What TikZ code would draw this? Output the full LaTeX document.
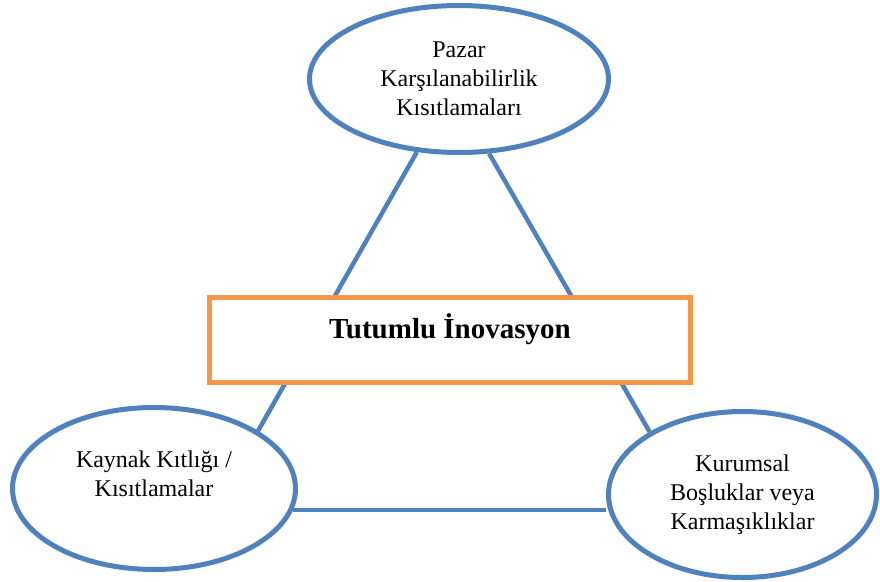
\documentclass[tikz,border=0pt]{standalone}
\usepackage{fontspec}
\setmainfont{Liberation Serif}
\usetikzlibrary{shapes.geometric,calc,backgrounds}
\definecolor{oblue}{RGB}{79,129,189}
\definecolor{oorange}{RGB}{247,150,70}
\tikzset{
  oval/.style={ellipse, draw=oblue, line width=5pt, fill=white, inner sep=0pt,
    align=center, font=\fontsize{24}{29}\selectfont},
  link/.style={draw=oblue, line width=4.5pt},
  titlebox/.style={draw=oorange, line width=5pt, fill=white},
}
\begin{document}
\begin{tikzpicture}[x=1pt,y=-1pt]
\useasboundingbox (0,0) rectangle (880,581);
\node[oval, minimum width=299pt, minimum height=147pt] (top) at (459,79)
  {Pazar\\Karşılanabilirlik\\Kısıtlamaları};
\node[oval, minimum width=283pt, minimum height=162pt] (left) at (154,488.5)
  {Kaynak Kıtlığı /\\Kısıtlamalar\\~};
\node[oval, minimum width=268pt, minimum height=166pt] (right) at (742.5,494.5)
  {Kurumsal\\Boşluklar veya\\Karmaşıklıklar};
\begin{scope}[on background layer]
\draw[link] (top.240) -- (left.29);
\draw[link] (top.292.5) -- (right.146);
\coordinate (bl) at ($(left.center)+(139,21.5)$);
\draw[link] (bl) -- (bl -| right.west);
\end{scope}
\path[titlebox] (209.5,297.5) rectangle (690.5,382.5);
\node[anchor=base, font=\fontsize{29}{34}\selectfont\bfseries] (title) at (450,338) {Tutumlu İnovasyon};
\end{tikzpicture}
\end{document}
